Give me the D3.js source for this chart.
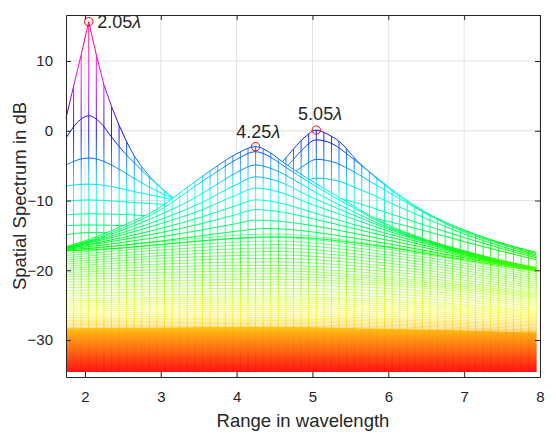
<!DOCTYPE html>
<html><head><meta charset="utf-8">
<script src="https://cdn.jsdelivr.net/npm/d3@7"></script>
<style>
body{margin:0;background:#fff}
text{font-family:"Liberation Sans",Arial,Helvetica,sans-serif;fill:#262626}
</style>
</head><body>
<svg id="chart" width="556" height="436"></svg>
<script>
// ---------------- data ----------------
const xTicks = [2, 3, 4, 5, 6, 7, 8];
const yTicks = [-30, -20, -10, 0, 10];
// mesh columns (range in wavelength)
const rangeGrid = d3.range(63).map(i => +(1.75 + i * 0.1).toFixed(2));
const floorLevel = -34.6;

// family peaked at 2.05 (back rows)
const familyA = [
  [[1.75,1.8],[1.85,6.4],[1.95,10.9],[2.05,15.64],[2.15,10.9],[2.25,6.6],[2.35,3.5],[2.45,0.8],[2.55,-1.6],[2.65,-3.6],[2.75,-5.2],[2.85,-6.5],[2.95,-7.6],[3.05,-8.6],[3.15,-9.5],[3.25,-10.2],[3.5,-11.3],[4.0,-12.7],[4.5,-13.4],[5.0,-14.0],[5.5,-14.8],[6.0,-15.6],[6.5,-16.6],[7.0,-17.6],[7.5,-18.7],[7.95,-19.7]],
  [[1.75,-1.05],[1.9,1.2],[2.05,2.15],[2.2,1.2],[2.35,-0.9],[2.5,-2.9],[2.65,-4.6],[2.8,-6.2],[2.95,-7.7],[3.15,-9.6],[3.5,-11.5],[4.0,-12.9],[4.5,-13.6],[5.0,-14.2],[5.5,-15.0],[6.0,-15.8],[6.5,-16.8],[7.0,-17.8],[7.5,-18.8],[7.95,-19.8]],
  [[1.75,-4.9],[1.9,-4.2],[2.05,-3.9],[2.2,-4.2],[2.4,-5.2],[2.6,-6.5],[2.8,-7.8],[3.0,-8.9],[3.15,-9.7],[3.5,-11.6],[4.0,-13.0],[4.5,-13.8],[5.0,-14.4],[5.5,-15.2],[6.0,-16.0],[6.5,-17.0],[7.0,-18.0],[7.5,-18.9],[7.95,-19.8]],
  [[1.75,-7.9],[2.05,-7.65],[2.3,-7.9],[2.6,-8.6],[2.9,-9.3],[3.15,-9.9],[3.5,-11.7],[4.0,-13.1],[4.5,-14.0],[5.0,-14.6],[5.5,-15.4],[6.0,-16.2],[6.5,-17.1],[7.0,-18.1],[7.5,-19.0],[7.95,-19.9]],
  [[1.75,-10.1],[2.05,-9.9],[2.4,-10.1],[2.8,-10.4],[3.15,-10.7],[3.5,-11.9],[4.0,-13.2],[4.5,-14.1],[5.0,-14.8],[5.5,-15.6],[6.0,-16.4],[6.5,-17.3],[7.0,-18.2],[7.5,-19.1],[7.95,-19.9]],
  [[1.75,-12.05],[2.05,-11.9],[2.5,-12.0],[3.0,-12.3],[3.5,-12.7],[4.0,-13.4],[4.5,-14.2],[5.0,-14.9],[5.5,-15.7],[6.0,-16.5],[6.5,-17.4],[7.0,-18.3],[7.5,-19.2],[7.95,-20.0]],
  [[1.75,-13.6],[2.05,-13.5],[2.5,-13.6],[3.0,-13.8],[3.5,-14.0],[4.0,-14.3],[4.5,-14.7],[5.0,-15.2],[5.5,-15.9],[6.0,-16.7],[6.5,-17.5],[7.0,-18.4],[7.5,-19.2],[7.95,-20.0]],
  [[1.75,-14.9],[2.05,-14.6],[2.5,-14.6],[3.0,-14.8],[3.5,-15.0],[4.0,-15.2],[4.5,-15.5],[5.0,-15.9],[5.5,-16.4],[6.0,-17.0],[6.5,-17.7],[7.0,-18.5],[7.5,-19.3],[7.95,-20.0]]
];

// family peaked at 5.05 (back rows)
const familyC = [
  [[1.75,-16.7],[2.5,-15.4],[3.0,-14.2],[3.5,-12.6],[4.0,-10.2],[4.25,-8.2],[4.45,-6.2],[4.6,-4.5],[4.75,-2.6],[4.9,-0.9],[5.05,0.1],[5.2,-0.5],[5.36,-1.6],[5.58,-4.2],[5.8,-6.4],[6.0,-8.2],[6.24,-10.1],[6.46,-11.6],[6.68,-12.8],[7.0,-14.2],[7.34,-15.6],[7.65,-16.6],[7.95,-17.4]],
  [[1.75,-16.8],[2.5,-15.6],[3.0,-14.5],[3.5,-13.0],[4.0,-10.9],[4.3,-8.9],[4.5,-7.1],[4.7,-4.7],[4.85,-2.9],[5.05,-1.3],[5.25,-1.8],[5.5,-3.7],[5.75,-5.9],[6.0,-8.0],[6.25,-10.0],[6.5,-11.7],[7.0,-14.3],[7.5,-16.1],[7.95,-17.6]],
  [[1.75,-16.9],[2.5,-15.8],[3.0,-14.9],[3.5,-13.6],[4.0,-11.8],[4.4,-9.6],[4.7,-6.6],[4.9,-4.9],[5.05,-4.1],[5.25,-4.4],[5.5,-5.6],[5.75,-7.2],[6.0,-8.8],[6.5,-11.9],[7.0,-14.5],[7.5,-16.3],[7.95,-17.8]],
  [[1.75,-17.0],[2.5,-16.0],[3.0,-15.2],[3.5,-14.1],[4.0,-12.6],[4.5,-10.2],[4.8,-7.9],[5.05,-6.8],[5.3,-7.1],[5.6,-8.3],[6.0,-10.2],[6.5,-12.6],[7.0,-14.8],[7.5,-16.6],[7.95,-18.0]],
  [[1.75,-17.1],[2.5,-16.2],[3.0,-15.5],[3.5,-14.6],[4.0,-13.3],[4.5,-11.5],[4.8,-10.0],[5.05,-9.4],[5.3,-9.6],[5.6,-10.4],[6.0,-11.8],[6.5,-13.6],[7.0,-15.3],[7.5,-16.9],[7.95,-18.2]],
  [[1.75,-17.2],[3.0,-15.8],[4.0,-14.0],[4.6,-12.3],[5.05,-11.5],[5.5,-11.9],[6.0,-13.0],[6.5,-14.4],[7.0,-15.9],[7.5,-17.3],[7.95,-18.5]]
];

// family peaked at 4.25 (front rows)
const familyB = [
  [[1.75,-16.6],[2.05,-15.6],[2.5,-13.6],[3.0,-10.9],[3.25,-8.9],[3.5,-6.9],[3.75,-5.0],[4.0,-3.3],[4.25,-2.28],[4.45,-3.2],[4.6,-4.4],[4.8,-5.9],[5.05,-7.6],[5.3,-9.2],[5.5,-10.5],[5.75,-12.1],[6.0,-13.5],[6.5,-15.6],[7.0,-17.2],[7.5,-18.6],[7.95,-19.6]],
  [[1.75,-16.7],[2.05,-15.8],[2.5,-13.9],[3.0,-11.3],[3.25,-9.5],[3.5,-7.6],[3.75,-5.8],[4.0,-4.1],[4.25,-3.0],[4.45,-3.8],[4.6,-4.9],[4.8,-6.3],[5.05,-8.0],[5.3,-9.6],[5.5,-10.8],[5.75,-12.3],[6.0,-13.7],[6.5,-15.7],[7.0,-17.3],[7.5,-18.7],[7.95,-19.7]],
  [[1.75,-16.7],[2.05,-15.9],[2.5,-14.2],[3.0,-12.0],[3.5,-9.3],[3.75,-7.6],[4.0,-6.0],[4.25,-4.9],[4.5,-5.6],[4.75,-7.0],[5.05,-8.9],[5.5,-11.4],[6.0,-13.9],[6.5,-15.8],[7.0,-17.4],[7.5,-18.7],[7.95,-19.7]],
  [[1.75,-16.8],[2.05,-16.0],[2.5,-14.6],[3.0,-12.7],[3.5,-10.5],[4.0,-7.7],[4.25,-6.6],[4.5,-7.1],[5.0,-9.6],[5.5,-11.9],[6.0,-14.1],[6.5,-15.9],[7.0,-17.5],[7.5,-18.8],[7.95,-19.8]],
  [[1.75,-16.8],[2.05,-16.1],[2.5,-14.9],[3.0,-13.3],[3.5,-11.5],[4.0,-9.2],[4.25,-8.2],[4.5,-8.6],[5.0,-10.6],[5.5,-12.5],[6.0,-14.4],[6.5,-16.0],[7.0,-17.6],[7.5,-18.9],[7.95,-19.8]],
  [[1.75,-16.9],[2.5,-15.3],[3.0,-14.0],[3.5,-12.5],[4.0,-10.7],[4.25,-9.9],[4.5,-10.2],[5.0,-11.7],[5.5,-13.3],[6.0,-14.8],[6.5,-16.2],[7.0,-17.7],[7.5,-19.0],[7.95,-19.9]],
  [[1.75,-16.9],[2.5,-15.6],[3.0,-14.6],[3.5,-13.4],[4.0,-12.0],[4.25,-11.3],[4.5,-11.5],[5.0,-12.6],[5.5,-13.9],[6.0,-15.2],[6.5,-16.5],[7.0,-17.8],[7.5,-19.0],[7.95,-19.9]],
  [[1.75,-17.0],[2.5,-16.0],[3.0,-15.2],[3.5,-14.3],[4.0,-13.3],[4.25,-12.8],[4.6,-13.0],[5.0,-13.6],[5.5,-14.6],[6.0,-15.7],[6.5,-16.8],[7.0,-18.0],[7.5,-19.1],[7.95,-20.0]],
  [[1.75,-17.1],[2.5,-16.4],[3.0,-15.8],[3.5,-15.1],[4.0,-14.4],[4.4,-14.0],[5.0,-14.5],[5.5,-15.3],[6.0,-16.2],[6.5,-17.2],[7.0,-18.2],[7.5,-19.2],[7.95,-20.0]],
  [[1.75,-17.2],[2.5,-16.8],[3.0,-16.3],[3.5,-15.8],[4.0,-15.4],[4.5,-15.2],[5.0,-15.4],[5.5,-16.0],[6.0,-16.7],[6.5,-17.6],[7.0,-18.5],[7.5,-19.4],[7.95,-20.1]]
];

// lower dense rows (front), values at bandKnots
const bandKnots = [1.75, 3.0, 4.5, 6.0, 7.95];
const bandRows = [
  [-17.3,-15.9,-14.8,-16.6,-20.2],[-17.6,-16.3,-15.3,-17.0,-20.5],[-17.9,-16.7,-15.8,-17.4,-20.8],
  [-18.2,-17.1,-16.3,-17.8,-21.1],[-18.5,-17.5,-16.8,-18.2,-21.4],[-18.8,-17.9,-17.3,-18.6,-21.7],
  [-19.1,-18.3,-17.8,-19.0,-22.0],[-19.4,-18.7,-18.3,-19.4,-22.3],[-19.7,-19.1,-18.8,-19.8,-22.6],
  [-20.0,-19.5,-19.3,-20.2,-22.9],[-20.3,-19.9,-19.7,-20.6,-23.2],[-20.6,-20.3,-20.1,-21.0,-23.4],
  [-20.9,-20.7,-20.5,-21.3,-23.6],[-21.3,-21.1,-20.9,-21.6,-23.8],[-21.7,-21.5,-21.3,-21.9,-24.0],
  [-22.1,-21.9,-21.7,-22.2,-24.3],[-22.5,-22.3,-22.1,-22.6,-24.6],[-22.9,-22.7,-22.6,-23.0,-24.9],
  [-23.3,-23.1,-23.0,-23.4,-25.2],[-23.7,-23.5,-23.4,-23.8,-25.5],[-24.1,-23.9,-23.8,-24.2,-25.8],
  [-24.4,-24.2,-24.1,-24.5,-26.0],[-24.7,-24.5,-24.4,-24.8,-26.2],[-25.0,-24.8,-24.7,-25.1,-26.4],
  [-25.3,-25.1,-25.0,-25.4,-26.6],[-25.6,-25.4,-25.3,-25.7,-26.8],[-25.9,-25.7,-25.6,-26.0,-27.0],
  [-26.2,-26.0,-25.9,-26.3,-27.2],[-26.5,-26.3,-26.2,-26.6,-27.4],[-26.8,-26.6,-26.5,-26.9,-27.6],
  [-27.0,-26.9,-26.8,-27.1,-27.8],[-27.2,-27.1,-27.0,-27.3,-28.0],[-27.4,-27.3,-27.2,-27.5,-28.2],
  [-27.6,-27.5,-27.4,-27.7,-28.4],[-27.8,-27.7,-27.6,-27.9,-28.6],[-28.0,-27.9,-27.8,-28.1,-28.7],
  [-28.2,-28.1,-28.0,-28.3,-28.8]
];
// solid bottom layer top (dense rows merge)
const solidTop = [-28.3, -28.2, -28.1, -28.4, -28.9];

const peakRange = [2.05, 4.25, 5.05];
const peakValue = [15.64, -2.28, 0.1];
const peakLabel = ["2.05", "4.25", "5.05"];

// ---------------- drawing ----------------
const svg = d3.select("#chart");
const x = d3.scaleLinear().domain([1.75, 8]).range([66, 540]);
const y = d3.scaleLinear().domain([-35.3, 16.6]).range([377, 15]);
const zMax = 15.64;

// hsv-like colormap keyed on value (vertical gradient in user space)
const hueOf = z => Math.min((z - floorLevel) * 7.0, 325);
const defs = svg.append("defs");
const grad = defs.append("linearGradient").attr("id", "hsv")
  .attr("gradientUnits", "userSpaceOnUse")
  .attr("x1", 0).attr("x2", 0).attr("y1", y(floorLevel)).attr("y2", y(zMax));
d3.range(41).forEach(i => {
  const z = floorLevel + (zMax - floorLevel) * i / 40;
  grad.append("stop").attr("offset", i / 40)
    .attr("stop-color", d3.hsl(hueOf(z), 1, 0.5).formatHex());
});

const bandPairs = bandRows.map(r => r.map((v, i) => [bandKnots[i], v]));
const solidPairs = solidTop.map((v, i) => [bandKnots[i], v]);

const lineGen = c => d3.line().x(d => x(d[0])).y(d => y(d[1])).curve(c);
const areaGen = c => d3.area().x(d => x(d[0])).y0(y(floorLevel)).y1(d => y(d[1])).curve(c);
const mono = d3.curveMonotoneX;
const curveA = i => i === 0 ? d3.curveLinear : mono;

// grid
const grid = svg.append("g").attr("stroke", "#e2e2e2").attr("stroke-width", 1);
xTicks.forEach(t => grid.append("line").attr("x1", x(t)).attr("x2", x(t)).attr("y1", y.range()[0]).attr("y2", y.range()[1]));
yTicks.forEach(t => grid.append("line").attr("y1", y(t)).attr("y2", y(t)).attr("x1", x.range()[0]).attr("x2", x.range()[1]));

// clip paths
const clipAll = defs.append("clipPath").attr("id", "clipAll");
familyA.forEach((r, i) => clipAll.append("path").attr("d", areaGen(curveA(i))(r)));
[...familyB, ...familyC, ...bandPairs].forEach(r => clipAll.append("path").attr("d", areaGen(mono)(r)));
const clipFront = defs.append("clipPath").attr("id", "clipFront");
[...familyB, ...bandPairs].forEach(r => clipFront.append("path").attr("d", areaGen(mono)(r)));

const drawColumns = (clipId, op) => {
  svg.append("g").attr("clip-path", `url(#${clipId})`)
    .attr("stroke", "url(#hsv)").attr("stroke-width", 0.9).attr("opacity", op)
    .selectAll("line").data(rangeGrid).join("line")
    .attr("x1", d => x(d)).attr("x2", d => x(d))
    .attr("y1", y(floorLevel)).attr("y2", y(zMax + 1));
};

// back part
drawColumns("clipAll", 1);
const back = svg.append("g").attr("fill", "none").attr("stroke", "url(#hsv)").attr("stroke-width", 1);
familyA.forEach((r, i) => back.append("path").attr("d", lineGen(curveA(i))(r)));
familyC.forEach(r => back.append("path").attr("d", lineGen(mono)(r)));

// front part hides what is behind it
const occ = svg.append("g").attr("fill", "#fff").attr("stroke", "none");
[...familyB, ...bandPairs].forEach(r => occ.append("path").attr("d", areaGen(mono)(r)));
drawColumns("clipFront", 0.85);
const front = svg.append("g").attr("fill", "none").attr("stroke", "url(#hsv)");
familyB.forEach(r => front.append("path").attr("d", lineGen(mono)(r)).attr("stroke-width", 1));
bandPairs.forEach(r => front.append("path").attr("d", lineGen(mono)(r)).attr("stroke-width", 0.75).attr("opacity", 0.7));
svg.append("path").attr("d", areaGen(mono)(solidPairs)).attr("fill", "url(#hsv)").attr("opacity", 0.92);

// axes (box)
const fmt = d3.format("d");
const axB = svg.append("g").attr("transform", `translate(0,377)`)
  .call(d3.axisBottom(x).tickValues(xTicks).tickSizeInner(-5).tickSizeOuter(0).tickPadding(14).tickFormat(fmt));
const axT = svg.append("g").attr("transform", `translate(0,15)`)
  .call(d3.axisTop(x).tickValues(xTicks).tickSizeInner(-5).tickSizeOuter(0).tickFormat(""));
const axL = svg.append("g").attr("transform", `translate(66,0)`)
  .call(d3.axisLeft(y).tickValues(yTicks).tickSizeInner(-5).tickSizeOuter(0).tickPadding(13).tickFormat(fmt));
const axR = svg.append("g").attr("transform", `translate(540,0)`)
  .call(d3.axisRight(y).tickValues(yTicks).tickSizeInner(-5).tickSizeOuter(0).tickFormat(""));
[axB, axT, axL, axR].forEach(a => {
  a.select(".domain").attr("stroke", "#262626").attr("stroke-width", 1);
  a.selectAll(".tick line").attr("stroke", "#262626");
  a.selectAll("text").attr("font-size", 15).attr("fill", "#262626").attr("font-family", '"Liberation Sans",Arial,sans-serif');
});

// labels
svg.append("text").attr("x", 303).attr("y", 426.5).attr("text-anchor", "middle")
  .attr("font-size", 18.5).text("Range in wavelength");
svg.append("text").attr("transform", "translate(25.5,196) rotate(-90)").attr("text-anchor", "middle")
  .attr("font-size", 18.5).text("Spatial Spectrum in dB");

// peak markers & annotations
const labelDx = [8.5, 2.7, 3.8], labelDy = [6.7, -8.8, -10.3], labelAnchor = ["start", "middle", "middle"];
peakRange.forEach((p, i) => {
  svg.append("circle").attr("cx", x(p)).attr("cy", y(peakValue[i])).attr("r", 4.2)
    .attr("fill", "none").attr("stroke", "#ff0000").attr("stroke-width", 1);
  const t = svg.append("text").attr("x", x(p) + labelDx[i]).attr("y", y(peakValue[i]) + labelDy[i])
    .attr("text-anchor", labelAnchor[i]).attr("font-size", 18).attr("fill", "#000");
  t.append("tspan").text(peakLabel[i]);
  t.append("tspan").attr("font-style", "italic").text("λ");
});
</script>
</body></html>
